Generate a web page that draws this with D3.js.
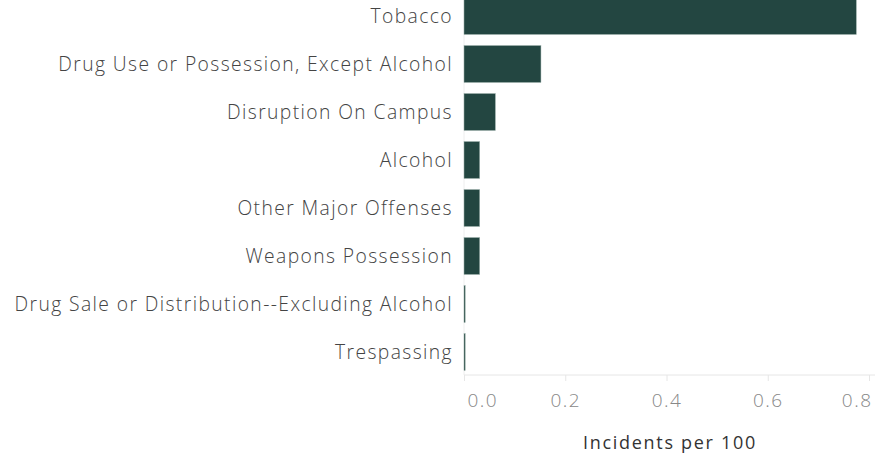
<!DOCTYPE html>
<html><head><meta charset="utf-8">
<script src="https://cdn.jsdelivr.net/npm/d3@7"></script>
<style>body{margin:0;background:#fff}svg{display:block}</style>
</head><body>
<script>
const categories = ["Tobacco","Drug Use or Possession, Except Alcohol","Disruption On Campus","Alcohol","Other Major Offenses","Weapons Possession","Drug Sale or Distribution--Excluding Alcohol","Trespassing"];
const values = [0.775, 0.152, 0.062, 0.031, 0.031, 0.031, 0.002, 0.002];
const ticks = [0, 0.2, 0.4, 0.6, 0.8];

const W = 876, H = 457;
const FONT = "Open Sans, sans-serif";
const svg = d3.select("body").append("svg").attr("width", W).attr("height", H);
const x = d3.scaleLinear().domain([0, 0.8]).range([464, 869]);
const y = d3.scaleBand().domain(categories).range([-8, 376]).paddingInner(0.23).paddingOuter(0.115);

svg.append("line").attr("x1", 464).attr("x2", 464).attr("y1", 0).attr("y2", 375).attr("stroke", "#eee");

svg.selectAll("rect.bar").data(values).enter().append("rect")
  .attr("x", x(0))
  .attr("y", (d, i) => y(categories[i]))
  .attr("width", d => Math.max(1.2, x(d) - x(0)))
  .attr("height", y.bandwidth())
  .attr("fill", "#234641")
  .attr("stroke", "#9fb3ae").attr("stroke-width", 0.5);

svg.selectAll("text.cat").data(categories).enter().append("text")
  .attr("x", 453).attr("y", d => y(d) + y.bandwidth() / 2)
  .attr("dy", "0.35em").attr("text-anchor", "end")
  .attr("font-family", FONT).attr("font-size", 19.3).attr("font-weight", 300)
  .attr("letter-spacing", 1.4)
  .attr("fill", "#444").text(d => d);

const ax = svg.append("g").attr("transform", "translate(0,375)")
  .call(d3.axisBottom(x).tickValues(ticks).tickFormat(d3.format(".1f")).tickSize(6).tickSizeOuter(0));
ax.select(".domain").attr("stroke", "#e6e6e6").attr("d", "M464,0H875");
ax.selectAll(".tick line").attr("stroke", "#e6e6e6");
ax.selectAll(".tick text").attr("font-family", FONT).attr("font-size", 19).attr("font-weight", 300)
  .attr("letter-spacing", 1.5)
  .attr("fill", "#888").attr("dy", "1.2em")
  .attr("text-anchor", (d, i) => i === 0 ? "start" : (i === ticks.length - 1 ? "end" : "middle"))
  .attr("x", (d, i) => i === 0 ? 3 : (i === ticks.length - 1 ? 3 : 0));

svg.append("text").attr("x", 670).attr("y", 449).attr("text-anchor", "middle")
  .attr("font-family", FONT).attr("font-size", 18).attr("font-weight", 500)
  .attr("letter-spacing", 1.7)
  .attr("fill", "#333").text("Incidents per 100");
</script>
</body></html>
